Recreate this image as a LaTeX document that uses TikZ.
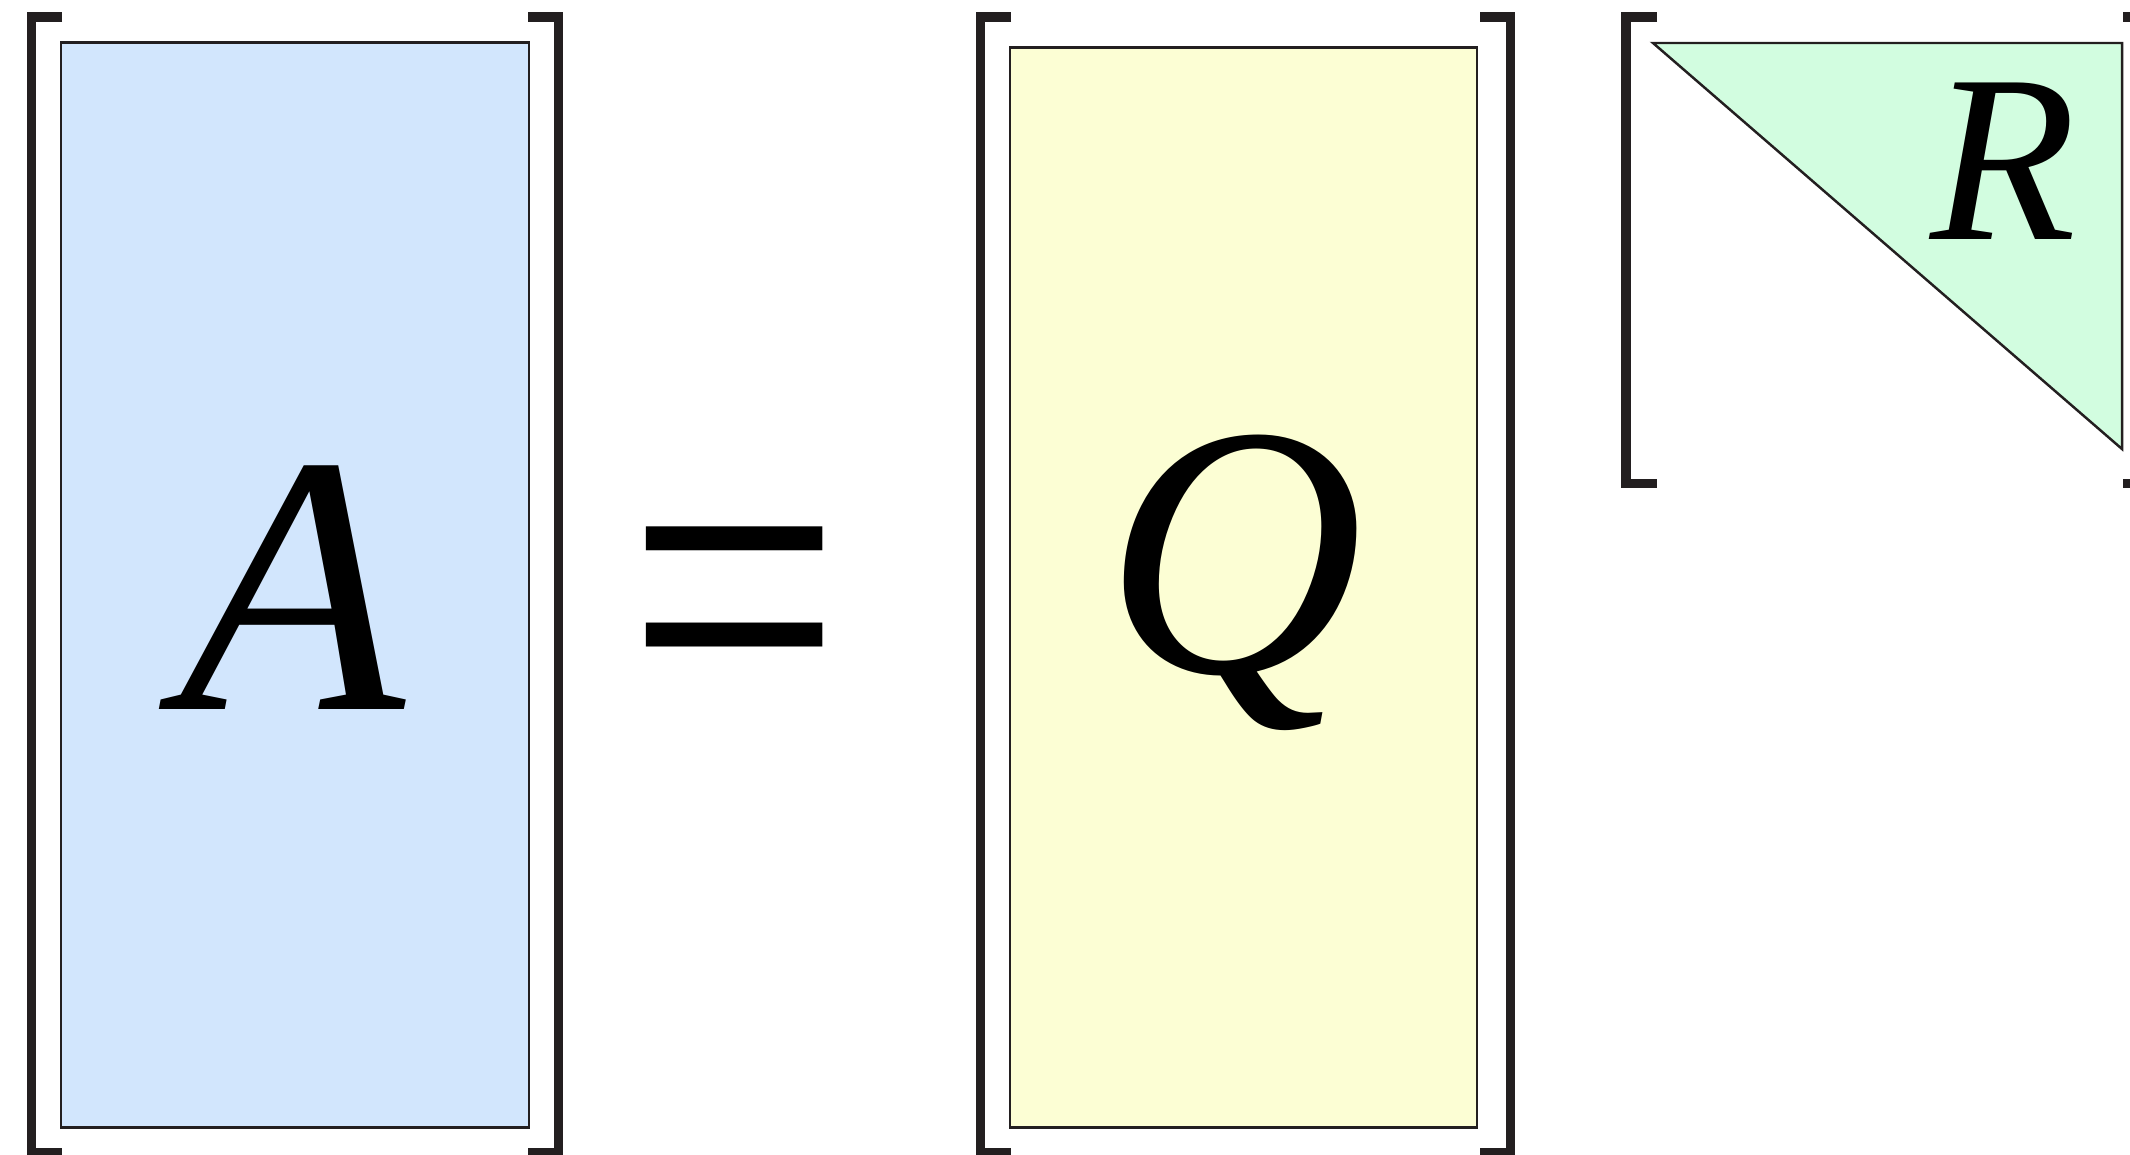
\documentclass[tikz,border=0pt]{standalone}
\usepackage{fontspec}
\setmainfont{Liberation Serif}
\usepackage{graphicx}
\usepackage{tikz}
\definecolor{inkblack}{HTML}{231F20}
\definecolor{tintblue}{HTML}{D2E6FD}
\definecolor{tintyellow}{HTML}{FCFED4}
\definecolor{tintgreen}{HTML}{D2FDE0}
\tikzset{
  matbox/.style={draw=inkblack,line width=0.7pt,inner sep=0pt},
  bracketline/.style={draw=inkblack,line width=0.095cm,line join=miter},
  matletter/.style={inner sep=0pt,font=\fontsize{105}{105}\selectfont\itshape},
}

\begin{document}
\begin{tikzpicture}[x=0.01cm,y=-0.01cm]
    \useasboundingbox (0,0) rectangle (2130,1154);
    % A
    \node[matbox,fill=tintblue,minimum width=4.68cm,minimum height=10.84cm] (boxA) at (295,585) {};
    \node[matletter,anchor=base] (letA) at (292,709) {A};
    \draw[bracketline] (62,17) -- (31.5,17) -- (31.5,1153) -- (62,1153);
    \draw[bracketline] (528,17) -- (558.5,17) -- (558.5,1153) -- (528,1153);
    % =
    \node[inner sep=0pt,font=\fontsize{102}{102}\selectfont,anchor=base] (eq) at (734,746) {\scalebox{1.057}[1.34]{=}};
    % Q
    \node[matbox,fill=tintyellow,minimum width=4.67cm,minimum height=10.79cm] (boxQ) at (1243.5,587.5) {};
    \node[matletter,font=\fontsize{102}{102}\selectfont\itshape,anchor=base] (letQ) at (1234,672) {Q};
    \draw[bracketline] (1011,17) -- (980.5,17) -- (980.5,1153) -- (1011,1153);
    \draw[bracketline] (1480,17) -- (1510.5,17) -- (1510.5,1153) -- (1480,1153);
    % R
    \coordinate (triA) at (1653,43);
    \coordinate (triB) at (2122,43);
    \coordinate (triC) at (2122,449);
    \draw[matbox,fill=tintgreen,line join=miter] (triA) -- (triB) -- (triC) -- cycle;
    \node[matletter,font=\fontsize{68}{68}\selectfont\itshape,anchor=base] (letR) at (2004,239) {R};
    \draw[bracketline] (1657,17) -- (1626,17) -- (1626,483.5) -- (1657,483.5);
    \draw[bracketline] (2123,17) -- (2154,17) -- (2154,483.5) -- (2123,483.5);
\end{tikzpicture}
\end{document}
